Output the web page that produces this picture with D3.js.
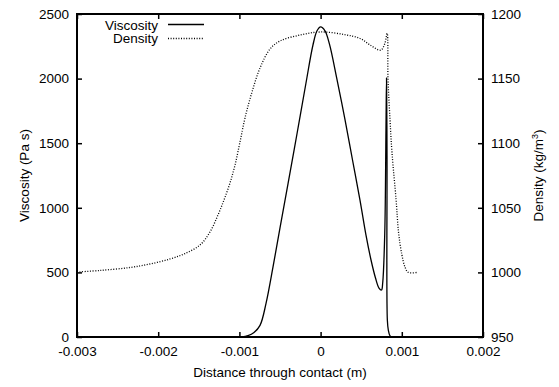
<!DOCTYPE html>
<html>
<head>
<meta charset="utf-8">
<script src="https://cdn.jsdelivr.net/npm/d3@7"></script>
<style>
  body { margin: 0; background: #fff; }
  #chart { width: 559px; height: 387px; }
  text { font-family: "Liberation Sans", Arial, sans-serif; font-size: 13.5px; fill: #000; }
</style>
</head>
<body>
<div id="chart"></div>
<script>
// values
const viscosityX = [-0.001, -0.000968, -0.000894, -0.00082, -0.000746, -0.000672, -0.000586, -0.0005, -0.000401, -0.00029,
  -0.00018, -0.000094, -0.000044, 0, 0.000054, 0.00011, 0.000196, 0.000301, 0.000393, 0.000485, 0.000559, 0.000621,
  0.000676, 0.000719, 0.00075, 0.000765, 0.00079, 0.000805, 0.000812, 0.000818, 0.000822, 0.000834, 0.000855, 0.000876];
const viscosityY = [0, 0, 10, 35, 90, 260, 542, 844, 1188, 1575,
  1966, 2260, 2370, 2400, 2370, 2265, 2012, 1680, 1370, 1060, 789, 596,
  457, 379, 364, 420, 800, 1600, 2005, 1400, 131, 54, 8, 0];

const densityX = [-0.003, -0.002717, -0.002347, -0.002101, -0.001855, -0.00167, -0.001485, -0.001362, -0.001264, -0.00119,
  -0.001116, -0.001054, -0.000993, -0.000931, -0.000845, -0.000746, -0.000623, -0.0005, -0.000254, 0,
  0.0003, 0.00049, 0.00061, 0.00074, 0.00079, 0.00082, 0.00083, 0.000855, 0.00088, 0.00093, 0.00096, 0.001,
  0.00104, 0.00108, 0.00119];
const densityY = [1000.3, 1001.5, 1003.8, 1006.5, 1010.4, 1014.6, 1021.2, 1031.3, 1044.4, 1056,
  1069.2, 1083.1, 1100.9, 1119.5, 1139.6, 1158.2, 1172.9, 1179.1, 1183.7, 1186.1,
  1184, 1181, 1176, 1172, 1177, 1185, 1150, 1118, 1092, 1056, 1031, 1014,
  1004, 1000, 1000];

const xTicks = [-0.003, -0.002, -0.001, 0, 0.001, 0.002];
const viscTicks = [0, 500, 1000, 1500, 2000, 2500];
const densTicks = [950, 1000, 1050, 1100, 1150, 1200];

const margin = { top: 14, right: 76, bottom: 50, left: 77 };
const width = 559 - margin.left - margin.right;
const height = 387 - margin.top - margin.bottom;

const svg = d3.select('#chart')
  .append('svg')
  .attr('width', 559)
  .attr('height', 387)
  .append('g')
  .attr('transform', `translate(${margin.left},${margin.top})`);

const x = d3.scaleLinear().domain([-0.003, 0.002]).range([0, width]);
const yV = d3.scaleLinear().domain([0, 2500]).range([height, 0]);
const yD = d3.scaleLinear().domain([950, 1200]).range([height, 0]);

const fmtX = (d) => d === 0 ? '0' : d3.format('.3f')(d).replace('\u2212', '-');

// axes with inward ticks
const bottomAxis = svg.append('g')
  .attr('transform', `translate(0,${height})`)
  .call(d3.axisBottom(x).tickValues(xTicks).tickSize(-5).tickPadding(9).tickFormat(fmtX));
const topAxis = svg.append('g')
  .call(d3.axisTop(x).tickValues(xTicks).tickSize(-5).tickFormat(''));
const leftAxis = svg.append('g')
  .call(d3.axisLeft(yV).tickValues(viscTicks).tickSize(-5).tickPadding(8).tickFormat(d3.format('d')));
const rightAxis = svg.append('g')
  .attr('transform', `translate(${width},0)`)
  .call(d3.axisRight(yD).tickValues(densTicks).tickSize(-5).tickPadding(8).tickFormat(d3.format('d')));

[bottomAxis, topAxis, leftAxis, rightAxis].forEach((g) => {
  g.select('.domain').remove();
  g.selectAll('.tick line').attr('stroke', '#000').attr('stroke-width', 1.5);
  g.selectAll('text')
    .attr('font-family', '"Liberation Sans", Arial, sans-serif')
    .attr('font-size', '13.5px')
    .attr('fill', '#000');
});

// frame
svg.append('rect')
  .attr('x', 0)
  .attr('y', 0)
  .attr('width', width)
  .attr('height', height)
  .attr('fill', 'none')
  .attr('stroke', '#000')
  .attr('stroke-width', 2);

const viscData = viscosityX.map((d, i) => ({ x: d, y: viscosityY[i] }));
const densData = densityX.map((d, i) => ({ x: d, y: densityY[i] }));

svg.append('path')
  .datum(viscData)
  .attr('fill', 'none')
  .attr('stroke', '#000')
  .attr('stroke-width', 1.3)
  .attr('d', d3.line().curve(d3.curveCatmullRom.alpha(0.5)).x((d) => x(d.x)).y((d) => yV(d.y)));

svg.append('path')
  .datum(densData)
  .attr('fill', 'none')
  .attr('stroke', '#000')
  .attr('stroke-width', 1.3)
  .attr('stroke-dasharray', '1,1.6')
  .attr('d', d3.line().curve(d3.curveCatmullRom.alpha(0.5)).x((d) => x(d.x)).y((d) => yD(d.y)));

// legend
const legend = svg.append('g').attr('transform', `translate(${-margin.left},${-margin.top})`);
legend.append('text').attr('x', 158).attr('y', 29.5).attr('text-anchor', 'end').text('Viscosity');
legend.append('line').attr('x1', 168).attr('x2', 204).attr('y1', 24.5).attr('y2', 24.5)
  .attr('stroke', '#000').attr('stroke-width', 1.3);
legend.append('text').attr('x', 158).attr('y', 43).attr('text-anchor', 'end').text('Density');
legend.append('line').attr('x1', 168).attr('x2', 204).attr('y1', 38.5).attr('y2', 38.5)
  .attr('stroke', '#000').attr('stroke-width', 1.3).attr('stroke-dasharray', '1,1.6');

// axis titles
svg.append('text')
  .attr('x', width / 2)
  .attr('y', height + 39.5)
  .attr('text-anchor', 'middle')
  .text('Distance through contact (m)');

svg.append('text')
  .attr('transform', `translate(${24 - margin.left},${height / 2}) rotate(-90)`)
  .attr('dy', '0.35em')
  .attr('text-anchor', 'middle')
  .text('Viscosity (Pa s)');

const dens = svg.append('text')
  .attr('transform', `translate(${538 - margin.left},${height / 2}) rotate(-90)`)
  .attr('dy', '0.35em')
  .attr('text-anchor', 'middle');
dens.append('tspan').text('Density (kg/m');
dens.append('tspan').attr('font-size', '9px').attr('dy', '-5').text('3');
dens.append('tspan').attr('dy', '5').text(')');
</script>
</body>
</html>
